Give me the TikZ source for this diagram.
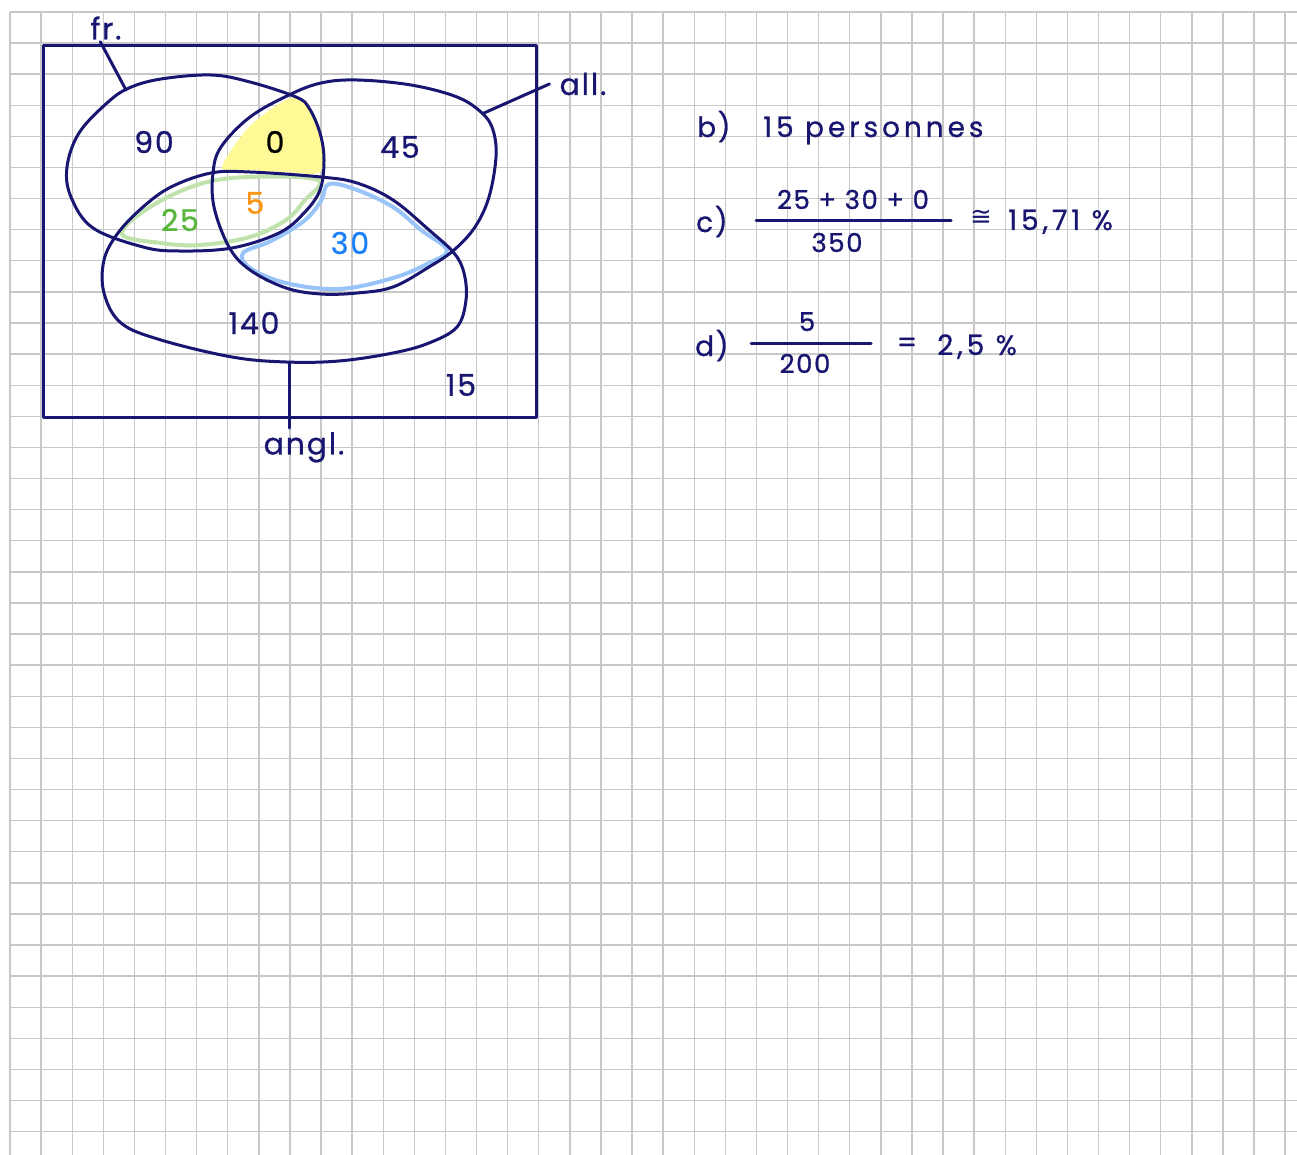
\documentclass[tikz,border=0pt]{standalone}
\usepackage{fontspec}
\setmainfont{Poppins}
\newfontfamily\handfont{Poppins}[FakeBold=0.8,LetterSpace=6]
\newfontfamily\widehand{Poppins}[FakeBold=0.8,LetterSpace=14]
\newfontfamily\symfont{DejaVu Sans}
\definecolor{ink}{RGB}{24,22,112}
\definecolor{paperline}{RGB}{200,200,200}
\definecolor{hiyellow}{RGB}{255,250,150}
\definecolor{hgreen}{RGB}{192,226,172}
\definecolor{tgreen}{RGB}{88,182,60}
\definecolor{hblue}{RGB}{152,196,250}
\definecolor{tblue}{RGB}{28,128,250}
\definecolor{torange}{RGB}{250,150,20}
\tikzset{
  vnum/.style={font=\handfont\fontsize{30}{30}\selectfont, text=ink, inner sep=0pt},
  hand/.style={font=\handfont\fontsize{28}{28}\selectfont, text=ink, inner sep=0pt},
  widetext/.style={font=\widehand\fontsize{28}{28}\selectfont, text=ink, inner sep=0pt},
  fracnum/.style={font=\handfont\fontsize{26}{26}\selectfont, text=ink, inner sep=0pt},
}
\begin{document}
\begin{tikzpicture}[x=1pt,y=-1pt]%
% squared paper, coordinates in px of the scan
\ifx\penlw\undefined\newdimen\penlw\fi
\global\def\pendraw{\draw[line width=\penlw,ink,line cap=round,line join=round]}
\global\def\penstop{;}
\penlw=3pt
\useasboundingbox (0,0) rectangle (1297,1155);
\fill[white] (0,0) rectangle (1297,1155);
\foreach \k in {0,...,41}
  \draw[paperline,line width=1.4pt] ({10+31.1*\k},12) -- ({10+31.1*\k},1155);
\foreach \k in {0,...,36}
  \draw[paperline,line width=1.4pt] (10,{12+31.1*\k}) -- (1297,{12+31.1*\k});
\fill[hiyellow] plot[smooth cycle,tension=0.5] coordinates
 {(222,168) (248,128) (284,101) (301,99) (314,117) (321,141) (320,172) (286,172) (250,170)}\penstop
\draw[hgreen,line width=4pt,line join=round] plot[smooth cycle,tension=0.6] coordinates
 {(122,234) (150,207) (200,184) (250,177) (318,180) (304,201) (286,220)
  (250,237) (200,245) (161,243)}\penstop
\draw[hblue,line width=4pt,line join=round] plot[smooth cycle,tension=0.6] coordinates
 {(329,184) (357,190) (393,207) (421,230) (447,250) (429,263) (393,278)
  (339,289) (286,283) (250,268) (243,253) (271,241) (304,221) (321,201)}\penstop
\pendraw (43,46) rectangle (536,417)\penstop
% fr.
\pendraw plot[smooth cycle,tension=0.6] coordinates
 {(211,75) (250,82) (296,97) (309,108) (320,133) (324,160) (320,190) (304,213)
  (279,233) (232,248) (179,251) (143,247) (93,228) (71,197) (67,167) (79,133)
  (107,103) (129,88) (161,79)}\penstop
% all.
\pendraw plot[smooth cycle,tension=0.6] coordinates
 {(289,95) (250,117) (221,147) (213,173) (214,207) (229,247) (250,270) (286,288)
  (321,294) (357,293) (393,287) (429,267) (454,250) (475,227) (489,197) (496,157)
  (493,130) (482,113) (457,97) (411,85) (357,80) (321,83)}\penstop
% angl.
\pendraw plot[smooth cycle,tension=0.6] coordinates
 {(211,173) (250,172) (321,177) (357,183) (393,200) (429,230) (454,253) (464,273)
  (466,300) (457,327) (429,343) (393,353) (339,361) (286,362) (232,357) (161,340)
  (121,323) (104,293) (104,260) (118,233) (143,207) (171,187)}\penstop
\node[vnum] (frlab) at (106,28) {fr.};
\node[vnum] (alllab) at (583,84) {all.};
\node[vnum,anchor=north] (angllab) at (304,432) {angl.};
\coordinate (frfoot) at (126,90);
\coordinate (allfoot) at (484,113);
\coordinate (anglfoot) at (289,363);
\pendraw ([xshift=10pt,yshift=-2pt]frlab.south west) -- (frfoot)\penstop
\pendraw ([xshift=-10pt]alllab.west) -- (allfoot)\penstop
\pendraw (anglfoot) -- ([xshift=-15pt,yshift=4pt]angllab.north)\penstop
\node[vnum] (nfr) at (154,142) {90};
\node[vnum,text=black] (nfa) at (275,142) {0};
\node[vnum] (nall) at (400,147) {45};
\node[vnum,text=tgreen] (nfe) at (180,220) {25};
\node[vnum,text=torange] (nfae) at (255,203) {5};
\node[vnum,text=tblue] (nae) at (350,243) {30};
\node[vnum] (neng) at (254,323) {140};
\node[vnum] (nnone) at (461,385) {15};
% answers
\node[hand,anchor=base west] (bl) at (697,137) {b)};
\node[widetext,anchor=base west] (bans) at (763,137) {15 personnes};
\node[hand,anchor=base west] (cl) at (696,232) {c)};
\node[fracnum,anchor=base] (cnum) at (853,209) {25 + 30 + 0};
\node[fracnum,anchor=base] (cden) at (837,252) {350};
\coordinate (cbarl) at (756,221);
\coordinate (cbarr) at (951,221);
\pendraw (cbarl) -- (cbarr)\penstop
\node[text=ink,font=\symfont\fontsize{26}{26}\selectfont,inner sep=0pt] (capprox) at (981,218) {≅};
\node[widetext,anchor=base west] (cres) at (1008,230) {15,71 \%};
\node[hand,anchor=base west] (dl) at (695,356) {d)};
\node[fracnum,anchor=base] (dnum) at (807,331) {5};
\node[fracnum,anchor=base] (dden) at (805,373) {200};
\coordinate (dbarl) at (751,343);
\coordinate (dbarr) at (871,343);
\pendraw (dbarl) -- (dbarr)\penstop
\node[hand] (deq) at (907,345) {=};
\node[widetext,anchor=base west] (dres) at (937,355) {2,5 \%};
\end{tikzpicture}
\end{document}
